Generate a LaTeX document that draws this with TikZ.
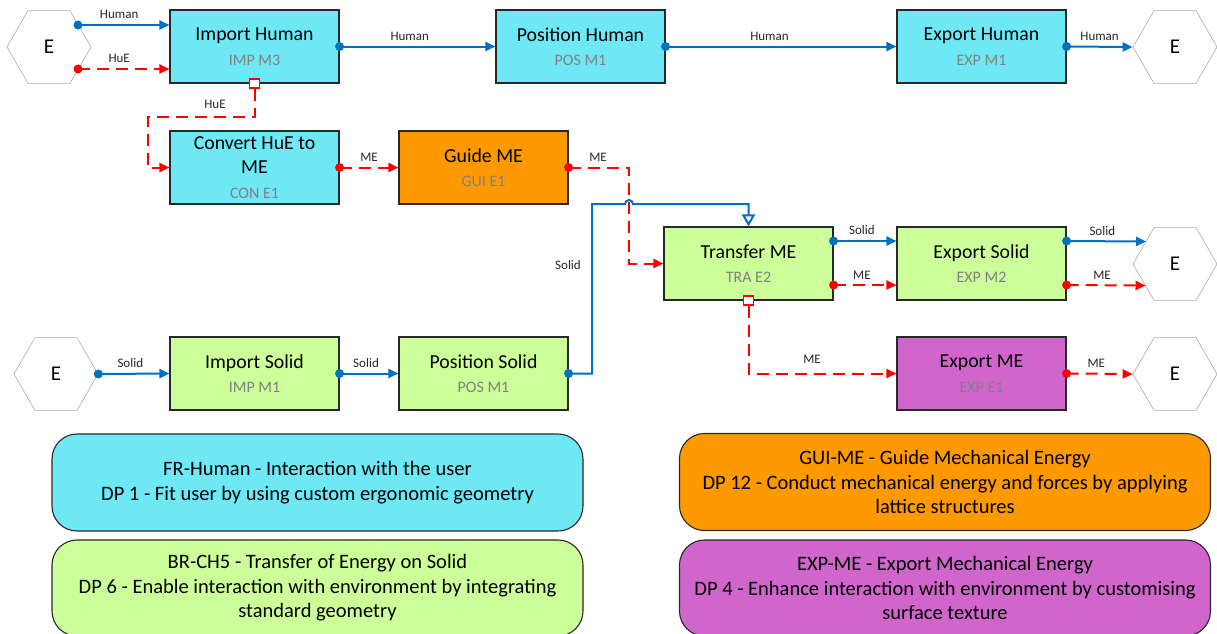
\documentclass[tikz,border=0pt]{standalone}
\usepackage{fontspec}
\setmainfont{Carlito}
\usetikzlibrary{arrows.meta,calc,shapes.geometric}
\definecolor{cyanbox}{RGB}{110,232,245}
\definecolor{greenbox}{RGB}{204,255,153}
\definecolor{orangebox}{RGB}{255,153,0}
\definecolor{purplebox}{RGB}{208,102,204}
\definecolor{flowblue}{RGB}{0,112,192}
\definecolor{flowred}{RGB}{255,0,0}
\definecolor{subgray}{RGB}{128,128,128}
\definecolor{boxborder}{RGB}{40,40,40}
\definecolor{hexgray}{RGB}{170,170,170}
\newcommand{\bxt}[2]{#1\\{\fontsize{16}{24}\selectfont\color{subgray}#2}}
\begin{document}
\begin{tikzpicture}[x=1pt,y=-1pt,
  fbox/.style={draw=boxborder, line width=1.1pt, minimum width=169pt, minimum height=73pt, inner sep=0pt, align=center, font=\fontsize{19.8}{24.5}\selectfont},
  hexn/.style={regular polygon, regular polygon sides=6, minimum size=84pt, inner sep=0pt, draw=hexgray, line width=0.6pt, font=\fontsize{21}{24}\selectfont},
  bl/.style={draw=flowblue, line width=2pt, -{Triangle[length=10pt,width=9pt]}},
  rd/.style={draw=flowred, line width=2pt, dash pattern=on 12pt off 7pt, -{Triangle[length=10pt,width=9pt]}},
  lbl/.style={font=\fontsize{13}{14}\selectfont, text=black!85, inner sep=0pt},
  legend/.style={draw=boxborder, line width=1.1pt, rounded corners=25pt, minimum width=531pt, minimum height=97pt, inner sep=0pt, align=center, font=\fontsize{20.5}{24.5}\selectfont},
  dotb/.style={fill=flowblue},
  dotr/.style={fill=flowred},
  sqm/.style={draw=flowred, line width=1.3pt, fill=white}
]
\useasboundingbox (0,0) rectangle (1217,633);
\fill[white] (0,0) rectangle (1217,633);

% hexagons
\node[hexn] (h1) at (49,47) {E};
\node[hexn] (h2) at (56,374) {E};
\node[hexn] (h3) at (1175,47) {E};
\node[hexn] (h4) at (1175,264) {E};
\node[hexn] (h5) at (1175,374) {E};

% function boxes
\node[fbox, fill=cyanbox] (ih) at (254.5,46.5) {\bxt{Import Human}{IMP M3}};
\node[fbox, fill=cyanbox] (ph) at (580.5,46.5) {\bxt{Position Human}{POS M1}};
\node[fbox, fill=cyanbox] (eh) at (981.5,46.5) {\bxt{Export Human}{EXP M1}};
\node[fbox, fill=cyanbox] (cv) at (254.5,167.5) {Convert HuE to\\ME\\{\fontsize{16}{24}\selectfont\color{subgray}CON E1}};
\node[fbox, fill=orangebox] (gm) at (483.5,167.5) {\bxt{Guide ME}{GUI E1}};
\node[fbox, fill=greenbox] (tr) at (748.5,263.5) {\bxt{Transfer ME}{TRA E2}};
\node[fbox, fill=greenbox] (es) at (981.5,263.5) {\bxt{Export Solid}{EXP M2}};
\node[fbox, fill=purplebox] (em) at (981.5,373.5) {\bxt{Export ME}{EXP E1}};
\node[fbox, fill=greenbox] (is) at (254.5,373.5) {\bxt{Import Solid}{IMP M1}};
\node[fbox, fill=greenbox] (ps) at (483.5,373.5) {\bxt{Position Solid}{POS M1}};

% legend boxes
\node[legend, fill=cyanbox] (lg1) at (317.5,482.5) {FR-Human - Interaction with the user\\DP 1 - Fit user by using custom ergonomic geometry};
\node[legend, fill=greenbox, minimum height=96pt] (lg2) at (317.5,588) {BR-CH5 - Transfer of Energy on Solid\\DP 6 - Enable interaction with environment by integrating\\standard geometry};
\node[legend, fill=orangebox] (lg3) at (945,482) {GUI-ME - Guide Mechanical Energy\\DP 12 - Conduct mechanical energy and forces by applying\\lattice structures};
\node[legend, fill=purplebox, minimum height=96pt] (lg4) at (945,588) {EXP-ME - Export Mechanical Energy\\DP 4 - Enhance interaction with environment by customising\\surface texture};

% helper coordinates
\coordinate (h1a) at ($(h1.center)+(29,-22)$);
\coordinate (h1b) at ($(h1.center)+(29,22)$);
\coordinate (tra) at ($(tr.east)+(0,-22.5)$);
\coordinate (trb) at ($(tr.east)+(0,21.5)$);
\coordinate (esa) at ($(es.east)+(0,-22.5)$);
\coordinate (esb) at ($(es.east)+(0,21.5)$);
\coordinate (h4a) at ($(h4.center)+(-29,-22.5)$);
\coordinate (h4b) at ($(h4.center)+(-29.5,21.5)$);
\coordinate (ihs) at ($(ih.south)+(0,5)$);
\coordinate (hu1) at (254.5,117);
\coordinate (hu2) at (147.5,117);
\coordinate (gm1) at (629,167.5);
\coordinate (ps1) at (592,373.5);
\coordinate (ps2) at (592,204);
\coordinate (jmp) at (625,204);
\coordinate (jy) at (0,204);
\coordinate (trs) at ($(tr.south)+(0,5)$);

% top row
\draw[bl] (h1a) -- node[lbl,above=5pt,pos=0.45]{Human} (h1a -| ih.west);
\draw[rd] (h1b) -- node[lbl,above=5pt,pos=0.45]{HuE} (h1b -| ih.west);
\draw[bl] (ih.east) -- node[lbl,above=5pt,pos=0.45]{Human} (ph.west);
\draw[bl] (ph.east) -- node[lbl,above=5pt,pos=0.45]{Human} (eh.west);
\draw[bl] (eh.east) -- node[lbl,above=5pt]{Human} (h3.west);

% HuE down to convert
\draw[rd] (ihs) -- (hu1) -- (hu2) |- (cv.west);
\node[lbl] (lhue) at (215,104) {HuE};
\draw[rd] (cv.east) -- node[lbl,above=5pt]{ME} (gm.west);
\draw[rd] (gm.east) -- (gm1) |- (tr.west);
\node[lbl] (lme1) at (598,157) {ME};

% solid path with jump
\draw[bl, -{Triangle[open,length=12pt,width=13pt]}] (ps.east) -- (ps1) -- (ps2) -- (jmp) arc[start angle=180,end angle=0,radius=4pt] -- (tr.north |- jy) -- (tr.north);
\node[lbl] (lsol) at (568,265) {Solid};

% transfer outputs
\draw[bl] (tra) -- node[lbl,above=5pt,pos=0.45]{Solid} (tra -| es.west);
\draw[rd] (trb) -- node[lbl,above=5pt,pos=0.45]{ME} (trb -| es.west);
\draw[bl] (esa) -- node[lbl,above=5pt,pos=0.45]{Solid} (h4a);
\draw[rd] (esb) -- node[lbl,above=5pt,pos=0.45]{ME} (h4b);
\draw[rd] (trs) |- (em.west);
\node[lbl] (lme2) at (812,359) {ME};
\draw[rd] (em.east) -- node[lbl,above=5pt,pos=0.45]{ME} (h5.west);

% solid bottom row
\draw[bl] (h2.east) -- node[lbl,above=5pt,pos=0.45]{Solid} (is.west);
\draw[bl] (is.east) -- node[lbl,above=5pt,pos=0.45]{Solid} (ps.west);

% markers
\draw[sqm] ($(ih.south)+(-5,-4.5)$) rectangle ($(ih.south)+(5,4.5)$);
\draw[sqm] ($(tr.south)+(-5,-4.5)$) rectangle ($(tr.south)+(5,4.5)$);
\fill[dotb] (h1a) circle (4.5pt);
\fill[dotr] (h1b) circle (4.5pt);
\fill[dotb] (ih.east) circle (4.5pt);
\fill[dotb] (ph.east) circle (4.5pt);
\fill[dotb] (eh.east) circle (4.5pt);
\fill[dotr] (cv.east) circle (4.5pt);
\fill[dotr] (gm.east) circle (4.5pt);
\fill[dotb] (ps.east) circle (4.5pt);
\fill[dotb] (tra) circle (4.5pt);
\fill[dotr] (trb) circle (4.5pt);
\fill[dotb] (esa) circle (4.5pt);
\fill[dotr] (esb) circle (4.5pt);
\fill[dotr] (em.east) circle (4.5pt);
\fill[dotb] (h2.east) circle (4.5pt);
\fill[dotb] (is.east) circle (4.5pt);
\end{tikzpicture}
\end{document}
